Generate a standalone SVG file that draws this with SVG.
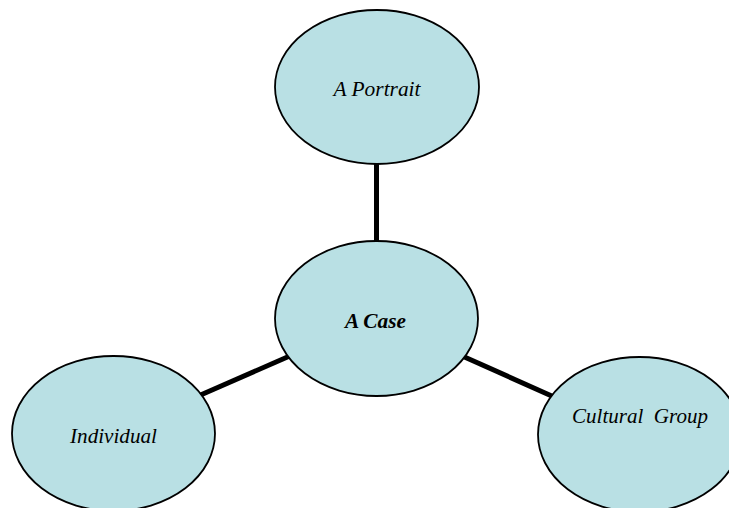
<svg xmlns="http://www.w3.org/2000/svg" width="729" height="508" viewBox="0 0 729 508">
<style>
.node{fill:#b9e0e4;stroke:#000;stroke-width:1.8}
.lbl{font-family:"Liberation Serif","Times New Roman",serif;font-style:italic;font-size:21px;fill:#000;text-anchor:middle;white-space:pre}
.edge{stroke:#000;stroke-width:5;fill:none}
</style>
<rect width="729" height="508" fill="#fff"/>
<g id="connectors">
<line class="edge" x1="376.5" y1="160" x2="376.5" y2="245"/>
<line class="edge" x1="196" y1="397" x2="292" y2="355"/>
<line class="edge" x1="460" y1="355" x2="554" y2="397"/>
</g>
<g id="portrait">
<ellipse class="node" cx="377" cy="87" rx="102" ry="77"/>
<text class="lbl" x="377" y="96" textLength="87" lengthAdjust="spacingAndGlyphs">A Portrait</text>
</g>
<g id="case">
<ellipse class="node" cx="376.5" cy="318.5" rx="101.5" ry="77.5"/>
<text class="lbl" x="375.5" y="328" font-weight="bold" textLength="61" lengthAdjust="spacingAndGlyphs">A Case</text>
</g>
<g id="individual">
<ellipse class="node" cx="113.5" cy="433.5" rx="101.5" ry="77.5"/>
<text class="lbl" x="113.5" y="443" textLength="87" lengthAdjust="spacingAndGlyphs">Individual</text>
</g>
<g id="cultural">
<ellipse class="node" cx="639.5" cy="434.5" rx="101.5" ry="77.5"/>
<text class="lbl" x="640" y="423" textLength="136" lengthAdjust="spacingAndGlyphs">Cultural  Group</text>
</g>
</svg>
